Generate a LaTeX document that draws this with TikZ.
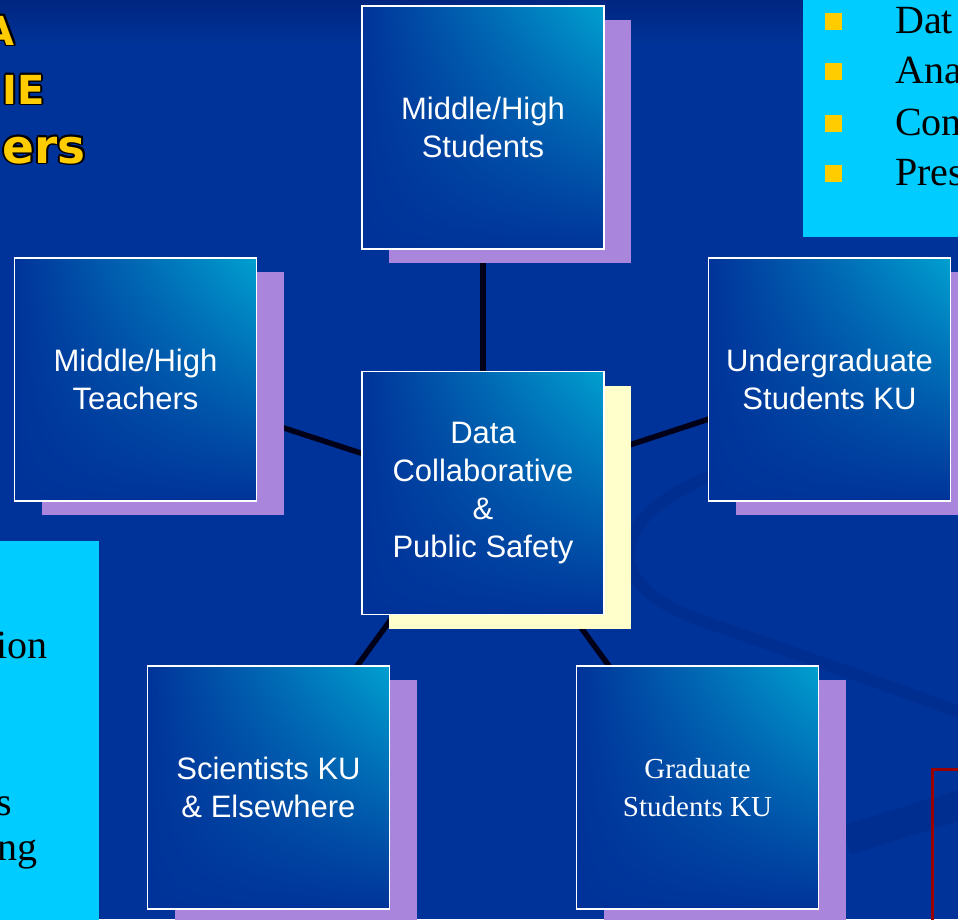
\documentclass[tikz,border=0pt]{standalone}
\usepackage{fontspec}
\setmainfont{Liberation Serif}
\newfontfamily\arialfont{Liberation Sans}
\newfontfamily\heavyfont{DejaVu Sans}
\usepackage{tikz}
\usetikzlibrary{shadows,shadings}
\definecolor{slideblue}{RGB}{0,51,153}
\definecolor{slidetop}{RGB}{0,38,128}
\definecolor{swoosh}{RGB}{0,46,144}
\definecolor{boxdark}{RGB}{0,51,153}
\definecolor{boxlight}{RGB}{0,160,208}
\definecolor{lavender}{RGB}{169,133,220}
\definecolor{cream}{RGB}{255,255,204}
\definecolor{panelcyan}{RGB}{0,204,255}
\definecolor{gold}{RGB}{255,204,0}
\definecolor{redline}{RGB}{153,0,0}
\newcommand{\rimtext}[1]{\leavevmode\rlap{\textcolor{black}{%
	\rlap{\kern1.8pt#1}\rlap{\kern-1.8pt#1}%
	\rlap{\raisebox{1.8pt}{#1}}\rlap{\raisebox{-1.8pt}{#1}}%
	\rlap{\kern1.3pt\raisebox{1.3pt}{#1}}\rlap{\kern-1.3pt\raisebox{1.3pt}{#1}}%
	\rlap{\kern1.3pt\raisebox{-1.3pt}{#1}}\rlap{\kern-1.3pt\raisebox{-1.3pt}{#1}}}}#1}
\pgfdeclarelayer{backdrop}
\pgfdeclarelayer{links}
\pgfsetlayers{backdrop,links,main}

\begin{document}
\begin{tikzpicture}
				[x=1pt,y=-1pt,
				tile/.style={draw=white, line width=1.4pt, inner sep=0pt,
					minimum width=242pt, minimum height=243pt, text=white, align=center,
					upper left=boxdark, upper right=boxlight, lower left=boxdark, lower right=boxdark,
					font=\arialfont\fontsize{31}{38}\selectfont},
				member/.style={tile, general shadow={fill=lavender, shadow xshift=27pt, shadow yshift=-14pt}},
				hub/.style={tile, general shadow={fill=cream, shadow xshift=27pt, shadow yshift=-14pt}},
				link/.style={line width=5.5pt, color=black!90!blue},
				title/.style={inner sep=0pt, text=gold, font=\heavyfont\bfseries\fontsize{40}{40}\selectfont},
				note/.style={inner sep=0pt, text=black, font=\fontsize{40}{40}\selectfont},
				bullet/.style={fill=gold}]
				\useasboundingbox (0,0) rectangle (958,919);
				\clip (0,0) rectangle (958,919);
				% slide background
				\begin{pgfonlayer}{backdrop}
					\fill[slideblue] (0,0) rectangle (958,919);
					\shade[top color=slidetop, bottom color=slideblue] (0,0) rectangle (958,45);
					\draw[swoosh, line width=12pt, line cap=round] (730,468) .. controls (600,515) and (600,585) .. (700,620)
						.. controls (800,655) and (900,690) .. (970,716);
					\draw[swoosh, line width=30pt] (846,840) -- (970,802);
				\end{pgfonlayer}
				% side panels
				\fill[panelcyan] (803,-5) rectangle (965,237);
				\fill[panelcyan] (-5,541) rectangle (99,925);
				\draw[redline, line width=3pt] (932,930) -- (932,769) -- (970,769);
				% the five groups round the hub
				\node[hub] (hub) at (483,493) {Data\\Collaborative\\\&\\Public Safety};
				\node[member] (stud) at (483,127.5) {Middle/High\\Students};
				\node[member] (teach) at (135.5,379.5) {Middle/High\\Teachers};
				\node[member] (under) at (829.5,379.5) {Undergraduate\\Students KU};
				\node[member] (sci) at (268.5,787.5) {Scientists KU\\\& Elsewhere};
				\node[member, font=\fontsize{29}{38}\selectfont] (grad) at (697.5,787.5) {Graduate\\Students KU};
				\begin{pgfonlayer}{links}
					\foreach \m in {stud,teach,under,sci,grad}
						\draw[link] (hub.center) -- (\m.center);
				\end{pgfonlayer}
				% title, cut by the slide edge
				\node[title, anchor=base east] (tA) at (15,45) {\rimtext{A}};
				\node[title, anchor=base east] (tIE) at (45,104) {\rimtext{IE}};
				\node[title, anchor=base east, font=\heavyfont\bfseries\fontsize{47}{47}\selectfont] (ters) at (86,163) {\rimtext{ers}};
				% bullet list, top right
				\foreach \y/\w [count=\i] in {33/Dat,83/Ana,135/Con,185/Pres}{
					\fill[bullet] (825,\y-20) rectangle (842,\y-3);
					\node[note, anchor=base west] (li\i) at (895,\y) {\w};
				}
				% left panel text
				\node[note, anchor=base east] (lion) at (48,658) {ion};
				\node[note, anchor=base east] (ls) at (12,815) {s};
				\node[note, anchor=base east] (lng) at (38,860) {ng};
\end{tikzpicture}
\end{document}
